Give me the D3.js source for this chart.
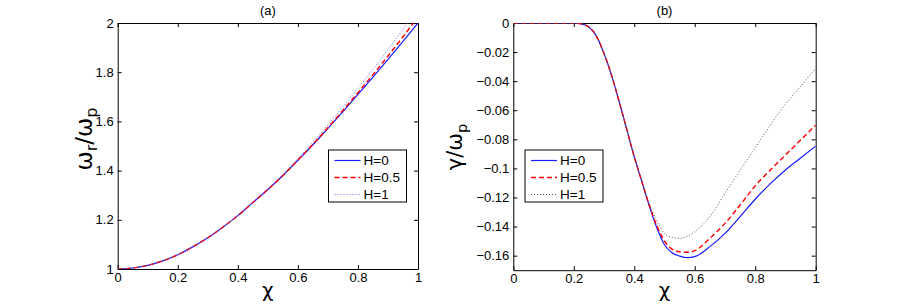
<!DOCTYPE html>
<html>
<head>
<meta charset="utf-8">
<script src="https://cdn.jsdelivr.net/npm/d3@7"></script>
<style>
  body { margin: 0; background: #fff; }
  svg { font-family: "Liberation Sans", Arial, sans-serif; }
  .tick text { font-size: 13px; fill: #000; }
  .tick line, .domain { stroke: #000; }
</style>
</head>
<body>
<svg id="chart" width="900" height="305"></svg>
<script>
// panel (a): real frequency
const chiA = [0, 0.05, 0.1, 0.15, 0.2, 0.25, 0.3, 0.35, 0.4, 0.45, 0.5,
              0.55, 0.6, 0.65, 0.7, 0.75, 0.8, 0.85, 0.9, 0.95, 1];
const omegaH0  = [1, 1.004, 1.015, 1.033, 1.058, 1.090, 1.127, 1.170, 1.217, 1.270, 1.323,
                  1.380, 1.442, 1.505, 1.572, 1.640, 1.710, 1.780, 1.852, 1.925, 2.000];
const omegaH05 = [1, 1.004, 1.015, 1.033, 1.058, 1.090, 1.127, 1.170, 1.217, 1.270, 1.323,
                  1.380, 1.443, 1.507, 1.575, 1.645, 1.717, 1.790, 1.866, 1.944, 2.025];
const omegaH1  = [1, 1.004, 1.015, 1.033, 1.058, 1.090, 1.127, 1.170, 1.218, 1.272, 1.326,
                  1.385, 1.449, 1.515, 1.586, 1.659, 1.735, 1.812, 1.892, 1.975, 2.060];

// panel (b): damping rate
const chiB = [0, 0.05, 0.1, 0.15, 0.2, 0.225, 0.25, 0.275, 0.3, 0.325, 0.35, 0.375, 0.4,
              0.425, 0.45, 0.475, 0.5, 0.525, 0.55, 0.575, 0.6, 0.65, 0.7, 0.75, 0.8,
              0.85, 0.9, 0.95, 1];
const gammaH0  = [0, 0, 0, 0, 0, -0.0006, -0.0028, -0.009, -0.021, -0.036, -0.054, -0.073, -0.092,
                  -0.109, -0.126, -0.141, -0.1525, -0.158, -0.1603, -0.1614, -0.1607, -0.1538, -0.1447, -0.1332, -0.1212,
                  -0.1105, -0.1011, -0.0928, -0.0846];
const gammaH05 = [0, 0, 0, 0, 0, -0.0006, -0.0028, -0.009, -0.021, -0.036, -0.054, -0.073, -0.092,
                  -0.109, -0.1255, -0.1395, -0.150, -0.1555, -0.1573, -0.1577, -0.1566, -0.148, -0.1378, -0.1252, -0.1120,
                  -0.1011, -0.0908, -0.0805, -0.0702];
const gammaH1  = [0, 0, 0, 0, 0, -0.0006, -0.0028, -0.009, -0.021, -0.036, -0.054, -0.073, -0.092,
                  -0.1085, -0.1245, -0.136, -0.1447, -0.1475, -0.148, -0.1468, -0.1435, -0.1332, -0.1172, -0.1011, -0.0858,
                  -0.0702, -0.0558, -0.0435, -0.0312];

const legendLabels = ['H=0', 'H=0.5', 'H=1'];
const xTicks = [0, 0.2, 0.4, 0.6, 0.8, 1];
const yTicksA = [1, 1.2, 1.4, 1.6, 1.8, 2];
const yTicksB = [0, -0.02, -0.04, -0.06, -0.08, -0.1, -0.12, -0.14, -0.16];

const svg = d3.select('#chart');
const fmt = d3.format('~g');

function panel (cfg) {
  const x = d3.scaleLinear().domain([0, 1]).range([cfg.left, cfg.right]);
  const y = d3.scaleLinear().domain(cfg.yDomain).range([cfg.bottom, cfg.top]);
  const g = svg.append('g');

  g.append('clipPath').attr('id', cfg.id + '-clip')
    .append('rect')
      .attr('x', cfg.left).attr('y', cfg.top)
      .attr('width', cfg.right - cfg.left).attr('height', cfg.bottom - cfg.top);

  // box with inward ticks on all four sides
  g.append('g').attr('transform', `translate(0,${cfg.bottom})`)
    .call(d3.axisBottom(x).tickValues(xTicks).tickFormat(fmt).tickSizeInner(-4).tickSizeOuter(0).tickPadding(4));
  g.append('g').attr('transform', `translate(0,${cfg.top})`)
    .call(d3.axisTop(x).tickValues(xTicks).tickFormat('').tickSizeInner(-4).tickSizeOuter(0));
  g.append('g').attr('transform', `translate(${cfg.left},0)`)
    .call(d3.axisLeft(y).tickValues(cfg.yTicks).tickFormat(fmt).tickSizeInner(-4).tickSizeOuter(0).tickPadding(4));
  g.append('g').attr('transform', `translate(${cfg.right},0)`)
    .call(d3.axisRight(y).tickValues(cfg.yTicks).tickFormat('').tickSizeInner(-4).tickSizeOuter(0));

  const line = d3.line()
    .x((d, i) => x(cfg.xs[i]))
    .y(d => y(d))
    .curve(d3.curveMonotoneX);

  g.append('g').attr('clip-path', `url(#${cfg.id}-clip)`)
    .selectAll('path')
    .data(cfg.series)
    .join('path')
      .attr('d', d => line(d.values))
      .attr('fill', 'none')
      .attr('stroke', d => d.color)
      .attr('stroke-width', d => d.width)
      .attr('stroke-dasharray', d => d.dash);

  // title
  g.append('text')
    .attr('x', (cfg.left + cfg.right) / 2).attr('y', 15)
    .attr('text-anchor', 'middle').attr('font-size', 13)
    .text(cfg.title);

  // x label
  g.append('text')
    .attr('x', (cfg.left + cfg.right) / 2).attr('y', 297)
    .attr('text-anchor', 'middle').attr('font-size', 20)
    .attr('font-family', 'DejaVu Sans')
    .text('χ');

  // y label
  const yl = g.append('text')
    .attr('transform', `translate(${cfg.yLabelX},${cfg.yLabelY}) rotate(-90)`)
    .attr('text-anchor', 'middle').attr('font-size', cfg.yLabelSize)
    .attr('font-family', 'DejaVu Sans');
  cfg.yLabel.forEach(p => {
    yl.append('tspan')
      .attr('font-size', p.sub ? cfg.yLabelSize * 0.7 : cfg.yLabelSize)
      .attr('dy', p.sub ? 5 : (p.after ? -5 : 0))
      .text(p.t);
  });

  // legend
  const lg = g.append('g').attr('transform', `translate(${cfg.legX},150)`);
  lg.append('rect')
    .attr('width', 78).attr('height', 52)
    .attr('fill', '#fff').attr('stroke', '#000').attr('stroke-width', 1);
  const item = lg.selectAll('.item').data(cfg.series).join('g')
    .attr('class', 'item')
    .attr('transform', (d, i) => `translate(0,${10.5 + i * 17})`);
  item.append('line')
    .attr('x1', 6).attr('x2', 32)
    .attr('stroke', d => d.color).attr('stroke-width', d => d.width)
    .attr('stroke-dasharray', d => d.dash);
  item.append('text')
    .attr('x', 35).attr('dy', '0.36em')
    .attr('font-size', 13.5)
    .text((d, i) => legendLabels[i]);
}

panel({
  id: 'a', title: '(a)',
  left: 117.7, right: 418, top: 23, bottom: 269,
  yDomain: [1, 2], yTicks: yTicksA,
  xs: chiA,
  series: [
    { values: omegaH0,  color: '#1a1aff', dash: null,  width: 1.2 },
    { values: omegaH05, color: '#ff0000', dash: '5,3', width: 1.4 },
    { values: omegaH1,  color: '#6666ff', dash: '1,2', width: 1 }
  ],
  yLabelX: 92, yLabelY: 139, yLabelSize: 23,
  yLabel: [{ t: 'ω' }, { t: 'r', sub: true }, { t: '/ω', after: true }, { t: 'p', sub: true }],
  legX: 328.5
});

panel({
  id: 'b', title: '(b)',
  left: 513.3, right: 815.7, top: 23, bottom: 270.2,
  yDomain: [-0.17, 0], yTicks: yTicksB,
  xs: chiB,
  series: [
    { values: gammaH0,  color: '#1a1aff', dash: null,  width: 1.2 },
    { values: gammaH05, color: '#ff0000', dash: '5,3', width: 1.4 },
    { values: gammaH1,  color: '#555555', dash: '1,2', width: 1 }
  ],
  yLabelX: 462, yLabelY: 147, yLabelSize: 21,
  yLabel: [{ t: 'γ' }, { t: '/ω' }, { t: 'p', sub: true }],
  legX: 525
});
</script>
</body>
</html>
